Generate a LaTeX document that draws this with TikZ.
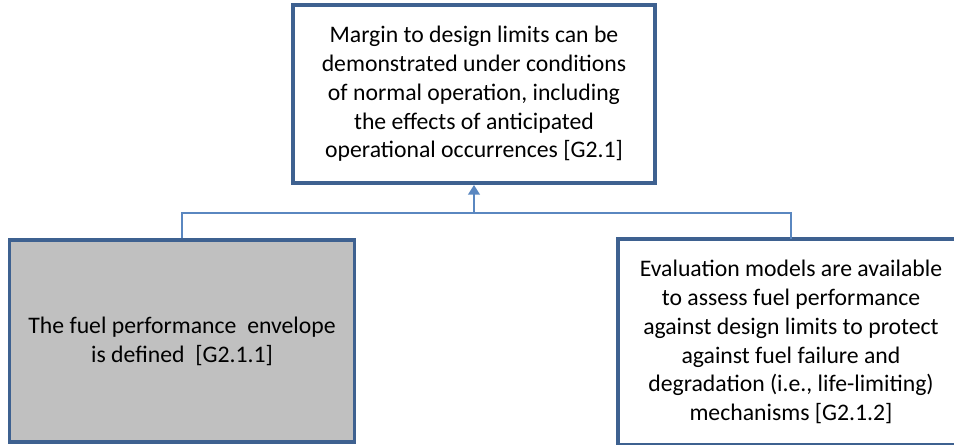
\documentclass[tikz,border=0pt]{standalone}
\usepackage{fontspec}
\setmainfont{Carlito}
\usetikzlibrary{arrows.meta,positioning}

\definecolor{boxblue}{HTML}{3E6190}
\definecolor{linkblue}{HTML}{5A87C0}
\definecolor{boxgray}{HTML}{C0C0C0}

\begin{document}
\begin{tikzpicture}[
	goal/.style={draw=boxblue, line width=2.2pt, align=center, inner sep=0pt,
		font=\fontsize{13.5}{16.4}\selectfont},
	frame/.style={draw=boxblue, line width=2.2pt},
	link/.style={draw=linkblue, line width=1.4pt}
	]
	\useasboundingbox (0,0) rectangle (19.08,8.88);

	\node[goal, minimum width=7.24cm, minimum height=3.56cm] (top) at (9.48,7.0)
		{Margin to design limits can be\\ demonstrated under conditions\\ of normal operation, including\\ the effects of anticipated\\ operational occurrences [G2.1]};
	\node[goal, fill=boxgray, minimum width=6.9cm, minimum height=4.04cm] (left) at (3.64,2.06)
		{The fuel performance\ \ envelope\\ is defined\ \ [G2.1.1]};
	% right box runs past the page edge
	\node[goal, draw=none, minimum width=6.84cm, minimum height=4.04cm] (right) at (15.82,2.04)
		{Evaluation models are available\\ to assess fuel performance\\ against design limits to protect\\ against fuel failure and\\ degradation (i.e., life-limiting)\\ mechanisms [G2.1.2]};
	\draw[frame] (right.south west) rectangle ([xshift=1cm]right.north east);

	\coordinate (bus) at (9.48,4.62);
	\draw[link] (left.north) |- (bus) -| (right.north);
	\draw[link, -{Triangle[width=6.5pt, length=5.5pt]}] (bus) -- (top.south);

\end{tikzpicture}
\end{document}
